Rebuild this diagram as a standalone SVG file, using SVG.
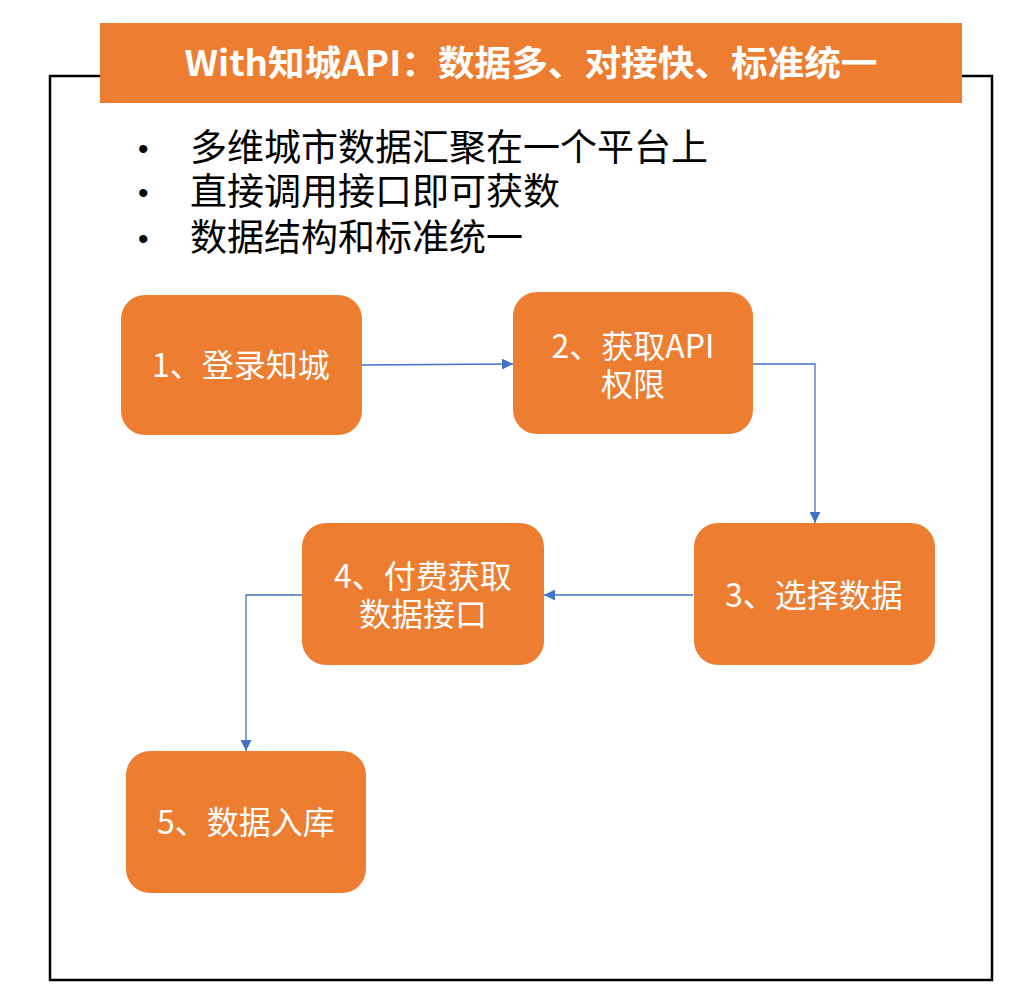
<svg xmlns="http://www.w3.org/2000/svg" width="1025" height="1000" viewBox="0 0 1025 1000">
<defs>
<style>
.node rect{fill:#ED7D31;}
.nt{fill:#FFFFFF;font-family:"Noto Sans CJK SC","Noto Sans",sans-serif;font-size:32px;text-anchor:middle;}
.bt{fill:#000000;font-family:"Noto Sans CJK SC","Noto Sans",sans-serif;font-size:37px;}
.dot{fill:#000000;font-family:"Liberation Sans",sans-serif;font-size:30px;}
.conn{fill:none;stroke:#4472C4;stroke-width:1.3;marker-end:url(#arr);}
</style>
<marker id="arr" viewBox="0 0 10 10" refX="10" refY="5" markerWidth="11" markerHeight="11" markerUnits="userSpaceOnUse" orient="auto">
<path d="M0,0 L10,5 L0,10 Z" fill="#4472C4"/>
</marker>
</defs>
<rect width="1025" height="1000" fill="#FFFFFF"/>
<rect id="frame" x="50" y="76" width="942" height="904" fill="none" stroke="#000000" stroke-width="2.5"/>
<g id="title">
<rect x="100" y="23" width="862" height="80" fill="#ED7D31"/>
<text x="531" y="76" fill="#FFFFFF" font-family="'Noto Sans CJK SC','Noto Sans',sans-serif" font-size="35" font-weight="bold" text-anchor="middle" textLength="693" lengthAdjust="spacingAndGlyphs">With知城API：数据多、对接快、标准统一</text>
</g>
<g id="bullets">
<text class="dot" x="138" y="159">•</text>
<text class="bt" x="190" y="161">多维城市数据汇聚在一个平台上</text>
<text class="dot" x="138" y="203">•</text>
<text class="bt" x="190" y="205">直接调用接口即可获数</text>
<text class="dot" x="138" y="249">•</text>
<text class="bt" x="190" y="251">数据结构和标准统一</text>
</g>
<g id="connectors">
<path class="conn" d="M362,365 L513,364"/>
<path class="conn" d="M753,364 L815,364 L815,523"/>
<path class="conn" d="M693,595 L544,595"/>
<path class="conn" d="M302,595 L246,595 L246,751"/>
</g>
<g id="node1" class="node">
<rect x="121" y="295" width="241" height="140" rx="24"/>
<text class="nt" x="241" y="377">1、登录知城</text>
</g>
<g id="node2" class="node">
<rect x="513" y="292" width="240" height="142" rx="24"/>
<text class="nt" x="633" y="358">2、获取API</text>
<text class="nt" x="633" y="396">权限</text>
</g>
<g id="node3" class="node">
<rect x="694" y="523" width="241" height="142" rx="24"/>
<text class="nt" x="814" y="607">3、选择数据</text>
</g>
<g id="node4" class="node">
<rect x="302" y="523" width="242" height="142" rx="24"/>
<text class="nt" x="423" y="588">4、付费获取</text>
<text class="nt" x="423" y="626">数据接口</text>
</g>
<g id="node5" class="node">
<rect x="126" y="751" width="240" height="142" rx="24"/>
<text class="nt" x="246" y="834">5、数据入库</text>
</g>
</svg>
